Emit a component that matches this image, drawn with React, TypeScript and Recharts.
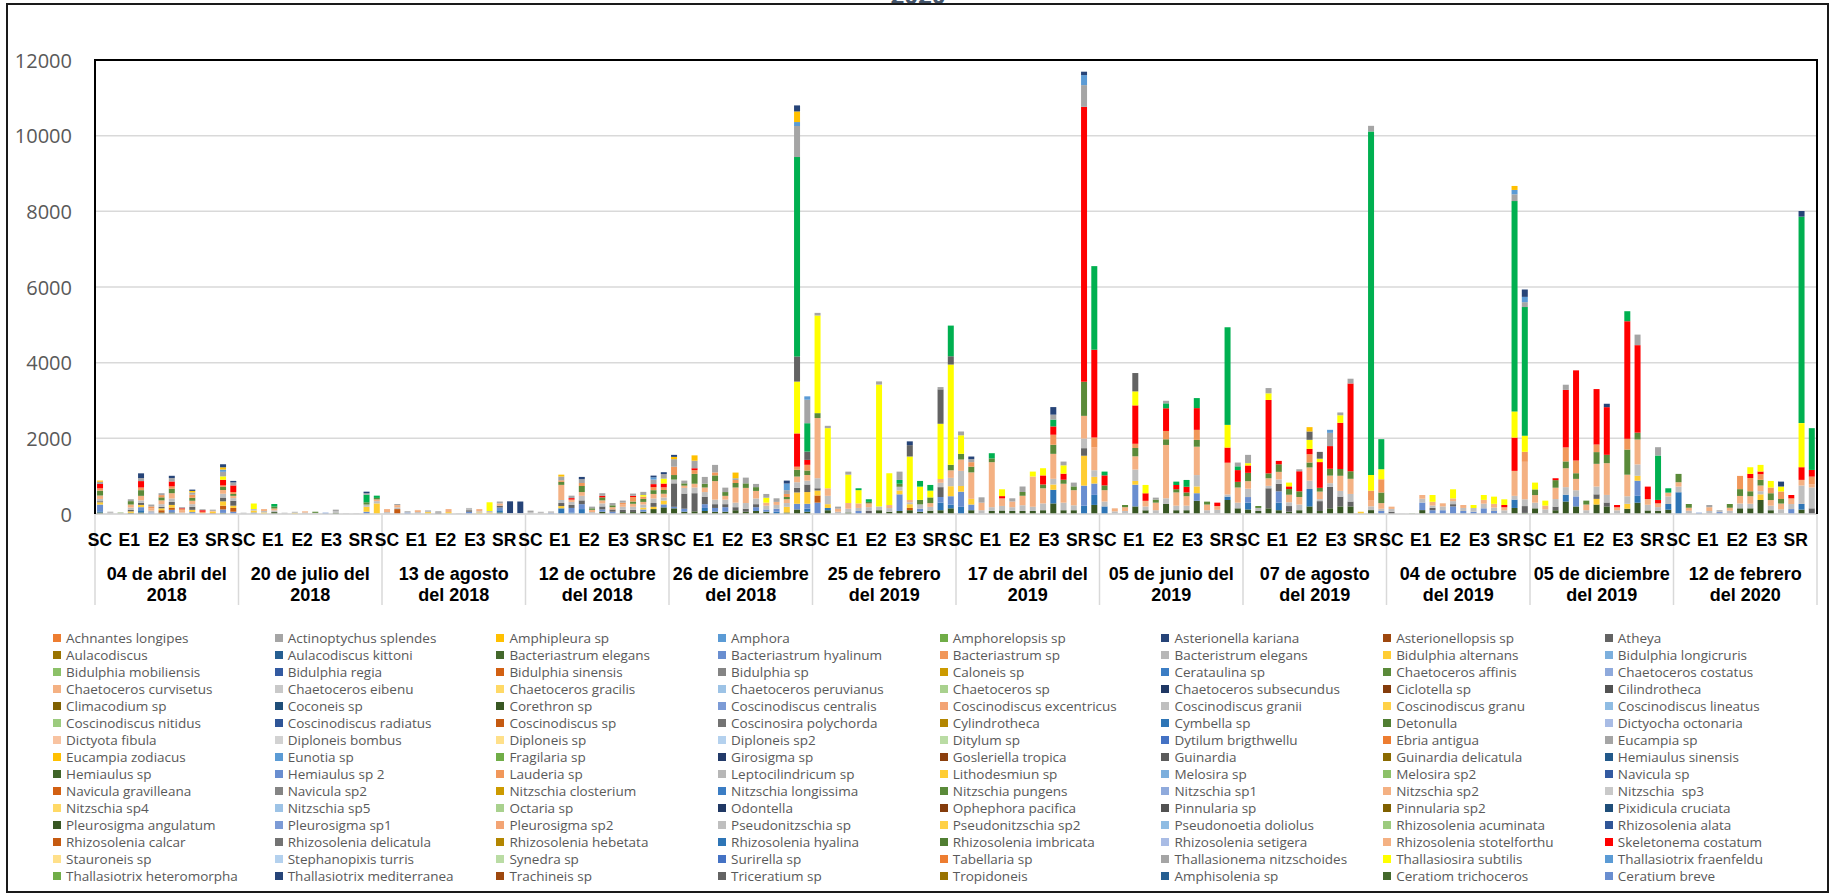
import React from 'react';
import { BarChart, Bar, XAxis, YAxis, CartesianGrid } from 'recharts';

const estaciones = ['SC', 'E1', 'E2', 'E3', 'SR'];
const fechas = [
  ['04 de abril del', '2018'],
  ['20 de julio del', '2018'],
  ['13 de agosto', 'del 2018'],
  ['12 de octubre', 'del 2018'],
  ['26 de diciembre', 'del 2018'],
  ['25 de febrero', 'del 2019'],
  ['17 de abril del', '2019'],
  ['05 de junio del', '2019'],
  ['07 de agosto', 'del 2019'],
  ['04 de octubre', 'del 2019'],
  ['05 de diciembre', 'del 2019'],
  ['12 de febrero', 'del 2020'],
];
const BARRAS_POR_FECHA = 14;
const ticksY = [0, 2000, 4000, 6000, 8000, 10000, 12000];

// densidades por especie, una fila de 14 barras por fecha
const pleurosigmaAngulatum = [
  40, 0, 0, 30, 40, 0, 40, 40, 0, 0, 0, 0, 30, 0,
  0, 0, 0, 50, 0, 0, 0, 0, 0, 30, 0, 0, 0, 0,
  0, 0, 0, 0, 0, 0, 0, 0, 0, 0, 0, 40, 0, 0,
  0, 0, 0, 0, 0, 0, 0, 60, 0, 50, 50, 60, 130, 175,
  150, 60, 70, 80, 60, 60, 100, 60, 80, 60, 0, 40, 120, 60,
  0, 100, 0, 40, 0, 0, 100, 60, 80, 100, 60, 88, 100, 150,
  0, 100, 0, 80, 93, 80, 80, 80, 100, 280, 100, 100, 0, 240,
  0, 0, 0, 200, 98, 0, 265, 100, 100, 350, 0, 0, 370, 150,
  120, 80, 150, 100, 60, 100, 200, 80, 150, 200, 200, 0, 103, 0,
  0, 0, 0, 103, 0, 0, 0, 0, 0, 0, 0, 0, 160, 29,
  150, 0, 100, 330, 200, 0, 250, 200, 0, 139, 300, 94, 82, 115,
  0, 0, 0, 0, 0, 0, 150, 150, 370, 100, 0, 0, 117, 0,
];
const cymbellaSp = [
  30, 0, 0, 0, 60, 0, 0, 0, 0, 0, 0, 0, 0, 0,
  0, 0, 0, 0, 0, 0, 0, 0, 0, 0, 0, 0, 0, 0,
  0, 0, 0, 0, 0, 0, 0, 0, 0, 0, 0, 60, 0, 0,
  0, 0, 0, 150, 40, 130, 0, 0, 0, 0, 0, 0, 0, 0,
  0, 0, 0, 80, 0, 0, 0, 0, 0, 0, 60, 0, 0, 80,
  0, 60, 0, 0, 0, 0, 0, 0, 0, 0, 0, 0, 200, 100,
  190, 0, 0, 0, 0, 0, 0, 0, 0, 360, 0, 0, 220, 265,
  200, 0, 0, 0, 0, 0, 0, 0, 0, 0, 0, 0, 90, 0,
  180, 0, 0, 200, 0, 0, 460, 0, 0, 0, 0, 0, 0, 0,
  0, 0, 0, 0, 0, 0, 0, 0, 0, 0, 0, 0, 220, 0,
  0, 0, 0, 180, 0, 0, 0, 0, 0, 0, 180, 0, 0, 150,
  575, 0, 0, 0, 0, 0, 0, 0, 0, 0, 0, 0, 150, 0,
];
const bacteriastrumHyalinum = [
  180, 0, 0, 0, 80, 40, 0, 70, 0, 50, 0, 0, 90, 60,
  0, 40, 0, 0, 0, 0, 0, 0, 35, 0, 0, 0, 60, 0,
  0, 0, 40, 0, 0, 0, 0, 0, 60, 0, 0, 70, 0, 0,
  0, 0, 30, 0, 120, 130, 0, 60, 60, 0, 0, 60, 0, 80,
  40, 80, 0, 100, 100, 120, 0, 0, 100, 60, 80, 0, 150, 130,
  300, 0, 0, 0, 80, 0, 0, 0, 440, 0, 80, 0, 150, 220,
  400, 150, 0, 0, 0, 0, 0, 0, 0, 0, 0, 0, 530, 300,
  0, 0, 0, 575, 0, 0, 0, 0, 0, 200, 0, 0, 0, 0,
  148, 0, 0, 300, 0, 0, 0, 0, 0, 0, 0, 0, 0, 80,
  0, 0, 0, 200, 100, 100, 200, 80, 60, 150, 80, 0, 0, 0,
  0, 0, 0, 0, 265, 0, 0, 0, 0, 0, 400, 0, 0, 0,
  0, 0, 35, 0, 50, 0, 0, 0, 0, 0, 0, 130, 0, 0,
];
const coscinodiscusSp = [
  0, 0, 0, 0, 0, 0, 60, 60, 0, 0, 0, 25, 100, 100,
  0, 0, 0, 0, 0, 0, 0, 0, 0, 0, 0, 0, 0, 0,
  0, 130, 0, 0, 0, 0, 0, 0, 0, 0, 0, 0, 0, 0,
  0, 0, 0, 0, 0, 0, 0, 0, 0, 0, 0, 0, 0, 0,
  0, 0, 0, 0, 0, 0, 0, 0, 0, 0, 0, 0, 0, 0,
  190, 0, 0, 0, 0, 0, 0, 0, 0, 60, 0, 0, 0, 0,
  0, 0, 0, 0, 0, 0, 0, 0, 0, 0, 0, 0, 0, 0,
  0, 0, 0, 0, 0, 0, 0, 0, 0, 0, 0, 0, 0, 0,
  0, 0, 0, 0, 0, 0, 0, 0, 0, 0, 0, 0, 0, 0,
  0, 0, 0, 0, 0, 0, 0, 0, 0, 0, 0, 0, 0, 0,
  0, 0, 0, 0, 0, 0, 0, 0, 0, 0, 0, 0, 0, 0,
  0, 0, 0, 0, 0, 0, 0, 0, 0, 0, 0, 0, 0, 0,
];
const bidulphiaAlternans = [
  60, 0, 0, 40, 60, 0, 50, 70, 0, 60, 0, 40, 115, 60,
  0, 50, 40, 0, 0, 30, 0, 0, 0, 0, 0, 0, 130, 280,
  0, 0, 0, 0, 50, 0, 50, 0, 0, 40, 40, 0, 0, 0,
  0, 0, 0, 60, 0, 0, 0, 0, 0, 0, 0, 50, 60, 100,
  0, 0, 0, 0, 0, 0, 0, 0, 0, 0, 0, 150, 300, 310,
  131, 100, 0, 0, 0, 0, 0, 0, 100, 100, 0, 0, 0, 265,
  150, 150, 0, 0, 0, 0, 0, 0, 0, 140, 0, 0, 790, 177,
  0, 0, 0, 100, 0, 0, 0, 0, 0, 179, 0, 0, 0, 0,
  0, 0, 0, 0, 0, 0, 0, 0, 0, 0, 0, 60, 0, 0,
  0, 0, 0, 0, 0, 0, 0, 0, 0, 0, 0, 0, 0, 0,
  0, 0, 0, 0, 0, 0, 150, 0, 0, 130, 130, 0, 0, 0,
  0, 0, 0, 0, 0, 0, 0, 0, 150, 0, 0, 0, 0, 0,
];
const atheya = [
  28, 0, 0, 40, 60, 0, 40, 80, 0, 80, 0, 0, 100, 130,
  0, 0, 0, 0, 0, 0, 0, 0, 0, 0, 0, 0, 0, 0,
  0, 0, 0, 0, 0, 40, 0, 0, 40, 0, 0, 50, 0, 0,
  0, 0, 0, 80, 80, 100, 0, 80, 60, 60, 60, 0, 100, 0,
  620, 400, 480, 200, 100, 80, 80, 80, 80, 0, 0, 0, 120, 200,
  60, 0, 0, 0, 0, 80, 0, 0, 0, 0, 0, 0, 260, 0,
  0, 0, 0, 0, 0, 0, 0, 0, 0, 0, 0, 0, 200, 0,
  0, 0, 0, 0, 0, 0, 0, 0, 0, 0, 0, 0, 0, 0,
  0, 0, 530, 200, 150, 0, 0, 260, 570, 260, 130, 0, 0, 0,
  60, 0, 0, 0, 63, 0, 60, 0, 0, 0, 0, 0, 0, 180,
  0, 0, 95, 0, 0, 0, 120, 104, 0, 0, 0, 0, 0, 0,
  0, 0, 0, 0, 0, 0, 0, 0, 0, 0, 0, 0, 0, 150,
];
const coscinodiscusGranii = [
  60, 40, 20, 60, 60, 50, 70, 90, 40, 70, 0, 0, 100, 70,
  35, 40, 40, 45, 35, 30, 40, 30, 0, 45, 18, 18, 60, 60,
  50, 45, 40, 50, 50, 40, 0, 18, 60, 30, 40, 0, 20, 20,
  50, 60, 40, 80, 80, 120, 50, 80, 0, 80, 80, 80, 120, 80,
  100, 150, 150, 120, 120, 120, 120, 150, 150, 100, 100, 100, 150, 100,
  265, 220, 60, 100, 80, 100, 100, 97, 100, 50, 114, 100, 115, 220,
  400, 0, 100, 100, 120, 100, 150, 111, 180, 150, 200, 130, 254, 175,
  130, 70, 80, 300, 100, 100, 150, 120, 120, 300, 100, 110, 56, 150,
  220, 80, 64, 114, 100, 150, 221, 52, 95, 150, 200, 0, 100, 58,
  74, 10, 0, 100, 60, 100, 80, 80, 98, 123, 89, 98, 100, 180,
  150, 123, 200, 200, 163, 100, 206, 200, 98, 200, 300, 150, 100, 200,
  150, 85, 0, 80, 56, 85, 127, 121, 83, 119, 126, 133, 485, 550,
];
const rhizosoleniaStotelforthu = [
  90, 0, 0, 80, 120, 60, 100, 140, 50, 90, 30, 20, 100, 60,
  0, 0, 50, 50, 0, 0, 30, 0, 0, 0, 0, 0, 0, 45,
  80, 60, 0, 50, 0, 0, 80, 0, 0, 60, 0, 60, 0, 0,
  0, 0, 0, 400, 60, 100, 60, 80, 60, 60, 80, 70, 120, 100,
  0, 60, 100, 120, 490, 100, 400, 400, 200, 80, 80, 100, 150, 150,
  1590, 200, 80, 150, 120, 100, 0, 80, 0, 60, 0, 100, 100, 200,
  300, 700, 200, 1190, 200, 150, 250, 800, 400, 660, 500, 400, 600, 600,
  300, 80, 100, 350, 150, 200, 1410, 350, 250, 750, 150, 100, 840, 400,
  200, 0, 200, 200, 200, 200, 350, 200, 200, 400, 400, 0, 150, 150,
  60, 0, 0, 100, 100, 83, 73, 78, 0, 100, 100, 80, 660, 990,
  200, 100, 300, 500, 300, 150, 600, 840, 80, 570, 660, 150, 100, 100,
  115, 80, 0, 100, 0, 80, 200, 200, 150, 150, 150, 150, 150, 88,
];
const chaetocerosAffinis = [
  130, 0, 15, 90, 150, 0, 80, 120, 0, 80, 0, 0, 80, 50,
  0, 0, 0, 50, 0, 0, 0, 30, 0, 0, 0, 0, 60, 40,
  0, 0, 0, 0, 0, 0, 0, 0, 0, 0, 0, 0, 0, 0,
  0, 0, 0, 80, 0, 160, 40, 80, 50, 0, 60, 80, 100, 100,
  120, 60, 260, 100, 150, 100, 120, 120, 100, 0, 0, 60, 180, 120,
  130, 0, 0, 0, 0, 40, 0, 0, 80, 0, 120, 150, 0, 145,
  150, 150, 0, 100, 0, 0, 100, 0, 100, 240, 106, 100, 900, 0,
  126, 0, 58, 220, 0, 80, 150, 86, 100, 180, 77, 0, 0, 150,
  220, 52, 130, 200, 150, 150, 130, 100, 180, 180, 200, 0, 0, 280,
  0, 0, 10, 0, 0, 0, 0, 0, 0, 0, 0, 0, 0, 0,
  150, 0, 200, 180, 150, 103, 310, 220, 0, 665, 180, 0, 0, 0,
  220, 100, 0, 0, 0, 100, 180, 130, 150, 180, 120, 0, 0, 0,
];
const bacteriastrumSp = [
  60, 0, 0, 0, 70, 50, 60, 60, 40, 80, 30, 0, 40, 50,
  0, 0, 0, 0, 0, 0, 0, 0, 0, 0, 0, 0, 0, 0,
  0, 0, 0, 0, 0, 0, 0, 0, 0, 0, 0, 0, 0, 0,
  0, 0, 0, 40, 0, 80, 0, 0, 0, 50, 120, 60, 80, 70,
  220, 0, 100, 0, 80, 0, 80, 0, 0, 0, 0, 80, 80, 150,
  0, 0, 0, 0, 0, 0, 0, 0, 0, 0, 0, 0, 0, 0,
  0, 120, 0, 0, 0, 0, 0, 0, 0, 265, 0, 0, 0, 265,
  0, 0, 0, 111, 0, 0, 220, 0, 0, 265, 0, 0, 0, 0,
  0, 0, 0, 0, 0, 0, 220, 0, 0, 0, 0, 0, 265, 350,
  0, 0, 0, 0, 0, 0, 0, 0, 0, 0, 0, 0, 0, 265,
  0, 0, 0, 370, 335, 0, 200, 0, 0, 283, 0, 0, 0, 0,
  0, 0, 0, 0, 0, 0, 350, 350, 150, 150, 200, 0, 0, 200,
];
const skeletonemaCostatum = [
  115, 0, 0, 0, 170, 0, 0, 130, 20, 0, 40, 0, 150, 175,
  0, 0, 0, 0, 0, 0, 0, 0, 0, 0, 0, 0, 0, 0,
  0, 0, 0, 0, 0, 0, 0, 0, 0, 0, 0, 0, 0, 0,
  0, 0, 0, 0, 40, 0, 0, 40, 0, 0, 30, 0, 80, 100,
  0, 0, 50, 0, 0, 0, 0, 0, 0, 0, 0, 0, 880, 130,
  0, 0, 0, 0, 0, 0, 0, 0, 0, 0, 0, 0, 0, 0,
  0, 0, 0, 0, 60, 0, 0, 0, 240, 220, 160, 0, 7267, 2320,
  265, 0, 0, 1015, 200, 0, 600, 110, 150, 575, 0, 90, 400, 310,
  195, 0, 1940, 90, 70, 530, 140, 680, 600, 1220, 2320, 0, 0, 0,
  0, 0, 0, 0, 0, 0, 0, 0, 0, 0, 0, 60, 880, 0,
  0, 0, 50, 1520, 2384, 0, 1466, 1260, 60, 3108, 2313, 330, 90, 0,
  0, 0, 0, 0, 0, 0, 0, 110, 70, 0, 0, 90, 335, 177,
];
const thallasiosiraSubtilis = [
  0, 0, 0, 0, 0, 0, 0, 0, 0, 0, 0, 0, 90, 0,
  0, 150, 0, 0, 0, 0, 0, 0, 0, 0, 0, 0, 0, 0,
  0, 0, 0, 0, 0, 0, 0, 0, 0, 0, 230, 0, 0, 0,
  0, 0, 0, 0, 0, 0, 0, 0, 0, 0, 0, 40, 0, 130,
  0, 0, 0, 0, 0, 0, 0, 0, 0, 130, 0, 0, 1370, 0,
  2580, 1590, 0, 750, 350, 0, 3220, 840, 0, 1150, 350, 180, 1460, 2650,
  490, 0, 0, 0, 180, 0, 0, 130, 190, 0, 220, 0, 0, 0,
  0, 0, 0, 370, 220, 0, 0, 0, 0, 0, 0, 0, 600, 0,
  60, 0, 175, 0, 100, 0, 240, 90, 0, 200, 0, 0, 415, 265,
  0, 0, 0, 0, 180, 0, 240, 0, 80, 130, 190, 150, 690, 425,
  180, 130, 0, 0, 0, 0, 0, 0, 0, 0, 0, 0, 0, 0,
  0, 0, 0, 0, 0, 0, 0, 175, 175, 175, 130, 0, 1165, 0,
];
const triceratiumSp = [
  0, 0, 0, 0, 0, 0, 0, 0, 0, 0, 0, 0, 0, 0,
  0, 0, 0, 0, 0, 0, 0, 0, 0, 0, 0, 0, 0, 0,
  0, 0, 0, 0, 0, 0, 0, 0, 0, 0, 0, 0, 0, 0,
  0, 0, 0, 0, 0, 0, 0, 0, 0, 0, 0, 0, 0, 0,
  0, 0, 0, 0, 0, 0, 0, 0, 0, 0, 0, 0, 665, 220,
  0, 0, 0, 0, 0, 0, 0, 0, 0, 300, 0, 0, 910, 220,
  0, 0, 0, 0, 0, 0, 0, 0, 0, 0, 0, 0, 0, 0,
  0, 0, 0, 485, 0, 0, 0, 0, 0, 0, 0, 0, 0, 0,
  0, 0, 0, 0, 0, 0, 220, 180, 0, 0, 0, 0, 0, 0,
  0, 0, 0, 0, 0, 0, 0, 0, 0, 0, 0, 0, 0, 0,
  0, 0, 0, 0, 0, 0, 0, 0, 0, 0, 0, 0, 0, 0,
  0, 0, 0, 0, 0, 0, 0, 0, 0, 0, 0, 0, 0, 0,
];
// serie verde sin entrada en la leyenda del original
const especieVerde = [
  0, 0, 0, 0, 0, 0, 0, 0, 0, 0, 0, 0, 0, 0,
  0, 0, 0, 70, 0, 0, 0, 0, 0, 0, 0, 0, 200, 60,
  0, 0, 0, 0, 0, 0, 0, 0, 0, 0, 0, 0, 0, 0,
  0, 0, 0, 0, 0, 0, 0, 0, 0, 0, 0, 0, 0, 0,
  0, 0, 0, 0, 0, 0, 0, 0, 0, 0, 0, 0, 5270, 750,
  0, 0, 0, 0, 50, 70, 0, 0, 100, 0, 150, 150, 0, 810,
  0, 0, 0, 137, 0, 0, 0, 0, 0, 180, 0, 0, 0, 2210,
  100, 0, 0, 0, 0, 0, 130, 90, 180, 265, 0, 0, 2580, 100,
  0, 0, 0, 0, 0, 0, 0, 0, 0, 0, 0, 0, 9077, 795,
  0, 0, 0, 0, 0, 0, 0, 0, 0, 0, 0, 0, 5560, 3400,
  0, 0, 0, 0, 0, 0, 0, 0, 0, 265, 0, 0, 1174, 115,
  0, 0, 0, 0, 0, 0, 0, 0, 0, 0, 0, 0, 5457, 1104,
];
const thallasionemaNitzschoides = [
  60, 20, 0, 50, 80, 50, 50, 90, 30, 60, 25, 30, 120, 80,
  0, 0, 0, 0, 0, 0, 0, 0, 0, 40, 0, 0, 40, 0,
  0, 30, 0, 0, 0, 0, 0, 0, 0, 0, 0, 50, 0, 0,
  40, 0, 0, 100, 65, 100, 45, 70, 60, 55, 60, 85, 120, 120,
  200, 73, 200, 180, 198, 117, 45, 152, 85, 100, 95, 100, 820, 620,
  70, 61, 55, 80, 0, 0, 85, 0, 220, 0, 0, 0, 60, 0,
  101, 80, 141, 0, 0, 85, 144, 0, 0, 131, 100, 100, 575, 0,
  0, 0, 0, 0, 0, 53, 68, 0, 0, 0, 0, 0, 0, 100,
  220, 0, 140, 0, 0, 53, 0, 0, 350, 74, 126, 0, 150, 0,
  0, 0, 0, 0, 0, 0, 0, 0, 0, 0, 0, 0, 180, 130,
  0, 0, 0, 137, 0, 0, 0, 0, 0, 0, 279, 0, 220, 0,
  0, 0, 0, 58, 0, 0, 0, 0, 0, 0, 0, 0, 0, 0,
];
const thallasiotrixFraenfeldu = [
  0, 0, 0, 0, 0, 0, 0, 0, 0, 0, 0, 0, 60, 0,
  0, 0, 0, 0, 0, 0, 0, 0, 0, 0, 0, 0, 0, 0,
  0, 0, 0, 0, 0, 0, 0, 0, 0, 0, 0, 0, 0, 0,
  0, 0, 0, 0, 0, 0, 0, 0, 0, 0, 0, 0, 60, 0,
  0, 0, 0, 0, 0, 0, 0, 0, 0, 0, 0, 175, 105, 90,
  0, 0, 0, 0, 0, 0, 0, 0, 0, 0, 0, 0, 0, 0,
  0, 0, 0, 0, 0, 0, 0, 0, 0, 0, 0, 0, 265, 0,
  0, 0, 0, 0, 0, 0, 0, 0, 0, 0, 0, 0, 0, 0,
  0, 0, 0, 0, 0, 0, 0, 0, 80, 0, 0, 0, 0, 0,
  0, 0, 0, 0, 0, 0, 0, 0, 0, 0, 0, 0, 115, 140,
  0, 0, 0, 0, 0, 0, 0, 0, 0, 0, 0, 0, 0, 0,
  0, 0, 0, 0, 0, 0, 0, 0, 0, 0, 0, 0, 0, 0,
];
const amphipleuraSp = [
  30, 0, 0, 0, 0, 0, 0, 0, 0, 40, 0, 0, 60, 0,
  0, 0, 0, 0, 0, 0, 0, 0, 0, 0, 0, 0, 0, 0,
  0, 0, 0, 0, 0, 0, 0, 0, 0, 0, 0, 0, 0, 0,
  0, 0, 0, 50, 0, 0, 0, 0, 0, 0, 0, 0, 0, 0,
  60, 0, 140, 0, 0, 0, 150, 0, 0, 0, 0, 0, 280, 0,
  0, 0, 0, 0, 0, 0, 0, 0, 0, 0, 0, 0, 0, 0,
  0, 0, 0, 0, 0, 0, 0, 0, 0, 0, 0, 0, 0, 0,
  0, 0, 0, 0, 0, 0, 0, 0, 0, 0, 0, 0, 0, 0,
  0, 0, 0, 0, 0, 0, 115, 0, 0, 0, 0, 0, 0, 0,
  0, 0, 0, 0, 0, 0, 0, 0, 0, 0, 0, 0, 106, 0,
  0, 0, 0, 0, 0, 0, 0, 0, 0, 0, 0, 0, 0, 0,
  0, 0, 0, 0, 0, 0, 0, 0, 0, 0, 0, 0, 0, 0,
];
const asterionellaKariana = [
  0, 0, 0, 0, 125, 0, 0, 60, 0, 35, 0, 0, 80, 40,
  0, 0, 0, 0, 0, 0, 0, 0, 0, 0, 0, 0, 40, 0,
  0, 0, 0, 0, 0, 0, 0, 0, 0, 0, 0, 0, 315, 310,
  0, 0, 0, 0, 0, 60, 0, 0, 0, 0, 0, 0, 45, 50,
  53, 0, 0, 0, 0, 0, 0, 0, 0, 0, 0, 78, 160, 0,
  0, 0, 0, 0, 0, 0, 0, 0, 0, 100, 0, 0, 0, 0,
  0, 69, 0, 0, 0, 0, 0, 0, 0, 200, 0, 0, 90, 0,
  0, 0, 0, 0, 0, 0, 0, 0, 0, 0, 0, 0, 0, 0,
  0, 0, 0, 0, 0, 0, 0, 0, 0, 0, 0, 0, 0, 0,
  0, 0, 0, 0, 0, 0, 0, 0, 0, 0, 0, 0, 0, 195,
  0, 0, 0, 0, 0, 0, 0, 90, 0, 0, 0, 0, 0, 0,
  0, 0, 0, 0, 0, 0, 0, 0, 0, 0, 130, 0, 150, 0,
];

// leyenda completa, en el orden del original (8 columnas)
const leyenda = [
  ['Achnantes longipes', '#ED7D31'], ['Actinoptychus splendes', '#A5A5A5'], ['Amphipleura sp', '#FFC000'], ['Amphora', '#5B9BD5'],
  ['Amphorelopsis sp', '#70AD47'], ['Asterionella kariana', '#264478'], ['Asterionellopsis sp', '#9E480E'], ['Atheya', '#636363'],
  ['Aulacodiscus', '#997300'], ['Aulacodiscus kittoni', '#255E91'], ['Bacteriastrum elegans', '#43682B'], ['Bacteriastrum hyalinum', '#698ED0'],
  ['Bacteriastrum sp', '#F1975A'], ['Bacteristrum elegans', '#B7B7B7'], ['Bidulphia alternans', '#FFCD33'], ['Bidulphia longicruris', '#7CAFDD'],
  ['Bidulphia mobiliensis', '#8CC168'], ['Bidulphia regia', '#335AA1'], ['Bidulphia sinensis', '#D26012'], ['Bidulphia sp', '#848484'],
  ['Caloneis sp', '#CC9A00'], ['Cerataulina sp', '#3B7DC4'], ['Chaetoceros affinis', '#5A8A39'], ['Chaetoceros costatus', '#8FAADC'],
  ['Chaetoceros curvisetus', '#F4B183'], ['Chaetoceros eibenu', '#C9C9C9'], ['Chaetoceros gracilis', '#FFD966'], ['Chaetoceros peruvianus', '#9DC3E6'],
  ['Chaetoceros sp', '#A9D18E'], ['Chaetoceros subsecundus', '#203864'], ['Ciclotella sp', '#843C0C'], ['Cilindrotheca', '#525252'],
  ['Climacodium sp', '#7F6000'], ['Coconeis sp', '#1F4E79'], ['Corethron sp', '#385723'], ['Coscinodiscus centralis', '#7C9BD6'],
  ['Coscinodiscus excentricus', '#F3A474'], ['Coscinodiscus granii', '#BFBFBF'], ['Coscinodiscus granu', '#FFD147'], ['Coscinodiscus lineatus', '#8FBCE3'],
  ['Coscinodiscus nitidus', '#9CCB7E'], ['Coscinodiscus radiatus', '#2F5597'], ['Coscinodiscus sp', '#C55A11'], ['Coscinosira polychorda', '#737373'],
  ['Cylindrotheca', '#B38600'], ['Cymbella sp', '#2E75B6'], ['Detonulla', '#507E32'], ['Dictyocha octonaria', '#A9BCE5'],
  ['Dictyota fibula', '#F8C3A1'], ['Diploneis bombus', '#D2D2D2'], ['Diploneis sp', '#FFE08A'], ['Diploneis sp2', '#B4D1EE'],
  ['Ditylum sp', '#BADCA4'], ['Dytilum brigthwellu', '#4472C4'], ['Ebria antigua', '#ED7D31'], ['Eucampia sp', '#A5A5A5'],
  ['Eucampia zodiacus', '#FFC000'], ['Eunotia sp', '#5B9BD5'], ['Fragilaria sp', '#70AD47'], ['Girosigma sp', '#223A69'],
  ['Gosleriella tropica', '#8B3F0D'], ['Guinardia', '#5B5B5B'], ['Guinardia delicatula', '#8A6A00'], ['Hemiaulus sinensis', '#22598A'],
  ['Hemiaulus sp', '#3F6428'], ['Hemiaulus sp 2', '#698ED0'], ['Lauderia sp', '#F1975A'], ['Leptocilindricum sp', '#B7B7B7'],
  ['Lithodesmiun sp', '#FFCD33'], ['Melosira sp', '#7CAFDD'], ['Melosira sp2', '#8CC168'], ['Navicula sp', '#335AA1'],
  ['Navicula gravilleana', '#D26012'], ['Navicula sp2', '#848484'], ['Nitzschia closterium', '#CC9A00'], ['Nitzschia longissima', '#3B7DC4'],
  ['Nitzschia pungens', '#5A8A39'], ['Nitzschia sp1', '#8FAADC'], ['Nitzschia sp2', '#F4B183'], ['Nitzschia  sp3', '#C9C9C9'],
  ['Nitzschia sp4', '#FFD966'], ['Nitzschia sp5', '#9DC3E6'], ['Octaria sp', '#A9D18E'], ['Odontella', '#203864'],
  ['Ophephora pacifica', '#843C0C'], ['Pinnularia sp', '#525252'], ['Pinnularia sp2', '#7F6000'], ['Pixidicula cruciata', '#1F4E79'],
  ['Pleurosigma angulatum', '#385723'], ['Pleurosigma sp1', '#7C9BD6'], ['Pleurosigma sp2', '#F3A474'], ['Pseudonitzschia sp', '#BFBFBF'],
  ['Pseudonitzschia sp2', '#FFD147'], ['Pseudonoetia doliolus', '#8FBCE3'], ['Rhizosolenia acuminata', '#9CCB7E'], ['Rhizosolenia alata', '#2F5597'],
  ['Rhizosolenia calcar', '#C55A11'], ['Rhizosolenia delicatula', '#737373'], ['Rhizosolenia hebetata', '#B38600'], ['Rhizosolenia hyalina', '#2E75B6'],
  ['Rhizosolenia imbricata', '#507E32'], ['Rhizosolenia setigera', '#A9BCE5'], ['Rhizosolenia stotelforthu', '#F4B183'], ['Skeletonema costatum', '#FF0000'],
  ['Stauroneis sp', '#FFE08A'], ['Stephanopixis turris', '#B4D1EE'], ['Synedra sp', '#BADCA4'], ['Surirella sp', '#4472C4'],
  ['Tabellaria sp', '#ED7D31'], ['Thallasionema nitzschoides', '#A5A5A5'], ['Thallasiosira subtilis', '#FFFF00'], ['Thallasiotrix fraenfeldu', '#5B9BD5'],
  ['Thallasiotrix heteromorpha', '#70AD47'], ['Thallasiotrix mediterranea', '#264478'], ['Trachineis sp', '#9E480E'], ['Triceratium sp', '#636363'],
  ['Tropidoneis', '#997300'], ['Amphisolenia sp', '#255E91'], ['Ceratiom trichoceros', '#43682B'], ['Ceratium breve', '#698ED0'],
];
const colorDe = (nombre: string) => (leyenda.find((l) => l[0] === nombre) || ['', '#999'])[1];

// orden de apilado, de abajo hacia arriba
const series = [
  { key: 'pleurosigmaAngulatum', nombre: 'Pleurosigma angulatum', valores: pleurosigmaAngulatum },
  { key: 'cymbellaSp', nombre: 'Cymbella sp', valores: cymbellaSp },
  { key: 'bacteriastrumHyalinum', nombre: 'Bacteriastrum hyalinum', valores: bacteriastrumHyalinum },
  { key: 'coscinodiscusSp', nombre: 'Coscinodiscus sp', valores: coscinodiscusSp },
  { key: 'bidulphiaAlternans', nombre: 'Bidulphia alternans', valores: bidulphiaAlternans },
  { key: 'atheya', nombre: 'Atheya', valores: atheya },
  { key: 'coscinodiscusGranii', nombre: 'Coscinodiscus granii', valores: coscinodiscusGranii },
  { key: 'rhizosoleniaStotelforthu', nombre: 'Rhizosolenia stotelforthu', valores: rhizosoleniaStotelforthu },
  { key: 'chaetocerosAffinis', nombre: 'Chaetoceros affinis', valores: chaetocerosAffinis },
  { key: 'bacteriastrumSp', nombre: 'Bacteriastrum sp', valores: bacteriastrumSp },
  { key: 'skeletonemaCostatum', nombre: 'Skeletonema costatum', valores: skeletonemaCostatum },
  { key: 'thallasiosiraSubtilis', nombre: 'Thallasiosira subtilis', valores: thallasiosiraSubtilis },
  { key: 'triceratiumSp', nombre: 'Triceratium sp', valores: triceratiumSp },
  { key: 'especieVerde', nombre: '', valores: especieVerde, color: '#00B050' },
  { key: 'thallasionemaNitzschoides', nombre: 'Thallasionema nitzschoides', valores: thallasionemaNitzschoides },
  { key: 'thallasiotrixFraenfeldu', nombre: 'Thallasiotrix fraenfeldu', valores: thallasiotrixFraenfeldu },
  { key: 'amphipleuraSp', nombre: 'Amphipleura sp', valores: amphipleuraSp },
  { key: 'asterionellaKariana', nombre: 'Asterionella kariana', valores: asterionellaKariana },
];

const datos = Array.from({ length: fechas.length * BARRAS_POR_FECHA }, (_, i) => {
  const fila: any = { id: i };
  series.forEach((s) => { fila[s.key] = s.valores[i]; });
  return fila;
});

const PLOT_IZQ = 95;
const PLOT_DER = 1817;
const PLOT_ARRIBA = 60;
const PLOT_ABAJO = 514;
const BANDA = (PLOT_DER - PLOT_IZQ) / datos.length;

const TickY = ({ y, payload }: any) => (
  <text x={72} y={y} textAnchor="end" dominantBaseline="central"
    style={{ fontFamily: '"Open Sans", sans-serif', fontSize: 20, fill: '#595959' }}>
    {payload.value}
  </text>
);

const TickFecha = ({ x, index }: any) => {
  if (index % BARRAS_POR_FECHA !== 0) return <g />;
  const g = index / BARRAS_POR_FECHA;
  const inicio = x - BANDA / 2;
  const ancho = BANDA * BARRAS_POR_FECHA;
  const negrita = { fontFamily: '"Liberation Sans", Arial, sans-serif', fontWeight: 700, fill: '#000' };
  return (
    <g>
      <line x1={inicio} x2={inicio} y1={PLOT_ABAJO} y2={605} stroke="#D9D9D9" strokeWidth={1.5} />
      {g === fechas.length - 1 && (
        <line x1={inicio + ancho} x2={inicio + ancho} y1={PLOT_ABAJO} y2={605} stroke="#D9D9D9" strokeWidth={1.5} />
      )}
      {estaciones.map((e, s) => (
        <text key={e} x={inicio + 5 + 29.3 * s} y={546} textAnchor="middle" style={{ ...negrita, fontSize: 17.5 }}>
          {e}
        </text>
      ))}
      <text x={inicio + ancho / 2} y={580} textAnchor="middle" style={{ ...negrita, fontSize: 18 }}>{fechas[g][0]}</text>
      <text x={inicio + ancho / 2} y={601} textAnchor="middle" style={{ ...negrita, fontSize: 18 }}>{fechas[g][1]}</text>
    </g>
  );
};

export default function App() {
  return (
    <div style={{ position: 'relative', width: 1832, height: 895, overflow: 'hidden', background: '#fff' }}>
      <style>{'body{margin:0}'}</style>
      <svg width={1832} height={10} style={{ position: 'absolute', left: 0, top: 0 }}>
        <text x={918} y={4} textAnchor="middle"
          style={{ fontFamily: '"Open Sans", sans-serif', fontSize: 24, fontWeight: 700, fill: '#44546A' }}>
          2020
        </text>
      </svg>
      <div style={{ position: 'absolute', left: 6, top: 3, width: 1823, height: 890, border: '2px solid #1a1a1a', boxSizing: 'border-box' }} />
      <div style={{ position: 'absolute', left: 0, top: 0 }}>
        <BarChart width={1832} height={620} data={datos} barCategoryGap="20%"
          margin={{ top: PLOT_ARRIBA, right: 1832 - PLOT_DER, bottom: 6, left: 15 }}>
          <CartesianGrid vertical={false} stroke="#D9D9D9" strokeWidth={1.5} />
          <XAxis dataKey="id" interval={0} height={100} tickLine={false}
            axisLine={{ stroke: '#D9D9D9', strokeWidth: 1.5 }} tick={<TickFecha />} />
          <YAxis width={80} domain={[0, 12000]} ticks={ticksY} axisLine={false} tickLine={false} tick={<TickY />} />
          {series.map((s) => (
            <Bar key={s.key} dataKey={s.key} stackId="a" fill={s.color || colorDe(s.nombre)} isAnimationActive={false} />
          ))}
        </BarChart>
      </div>
      <div style={{ position: 'absolute', left: PLOT_IZQ - 1, top: PLOT_ARRIBA - 1, width: PLOT_DER - PLOT_IZQ + 2,
        height: PLOT_ABAJO - PLOT_ARRIBA + 1, borderTop: '2px solid #000', borderLeft: '2px solid #000',
        borderRight: '2px solid #000', boxSizing: 'border-box', pointerEvents: 'none' }} />
      <div style={{ position: 'absolute', left: 53, top: 629.5, display: 'grid',
        gridTemplateColumns: 'repeat(8, 221.7px)', gridAutoRows: '17px' }}>
        {leyenda.map(([nombre, color]) => (
          <div key={nombre} style={{ display: 'flex', alignItems: 'center', whiteSpace: 'pre',
            fontFamily: '"Open Sans", sans-serif', fontSize: 13.5, color: '#595959' }}>
            <span style={{ display: 'inline-block', width: 8, height: 8, background: color, marginRight: 5 }} />
            {nombre}
          </div>
        ))}
      </div>
    </div>
  );
}
